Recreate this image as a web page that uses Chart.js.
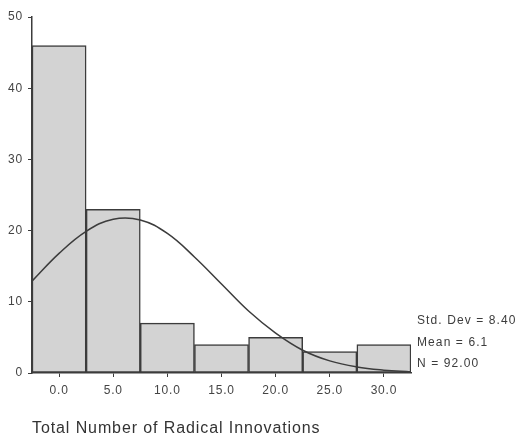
<!DOCTYPE html>
<html>
<head>
<meta charset="utf-8">
<script src="https://cdn.jsdelivr.net/npm/chart.js@4.4.1/dist/chart.umd.min.js"></script>
<style>
  body { margin: 0; background: #fff; }
  #wrap { width: 517px; height: 441px; }
</style>
</head>
<body>
<div id="wrap"><canvas id="chart" width="517" height="441"></canvas></div>
<script>
// -----------------------------
// Data
// -----------------------------
const binCenters = [0, 5, 10, 15, 20, 25, 30];
const counts = [46, 23, 7, 4, 5, 3, 4];

// fitted normal curve
const curveX = [-2.5, 0, 2.5, 5, 7.5, 10, 12.5, 15, 17.5, 20, 22.5, 25, 27.5, 30, 32.5];
const curveY = [12.9, 16.8, 19.9, 21.6, 21.5, 19.6, 16.3, 12.5, 8.7, 5.6, 3.2, 1.7, 0.85, 0.4, 0.15];

const xTicks = [0, 5, 10, 15, 20, 25, 30];
const yTicks = [0, 10, 20, 30, 40, 50];
const stats = ["Std. Dev = 8.40", "Mean = 6.1", "N = 92.00"];
const xTitle = "Total Number of Radical Innovations";

const ink = "#3c3c3c";
const fontFamily = "'Liberation Sans', Arial, sans-serif";

// -----------------------------
// Texts: slightly wide spacing like the scan
// -----------------------------
const textPlugin = {
  id: "texts",
  beforeDraw(chart) {
    // tick labels get a bit of letter spacing too
    chart.ctx.letterSpacing = "0.8px";
  },
  afterDraw(chart) {
    const ctx = chart.ctx;
    ctx.save();
    ctx.fillStyle = ink;
    ctx.textBaseline = "middle";
    ctx.textAlign = "left";

    ctx.font = "12px " + fontFamily;
    ctx.letterSpacing = "1.1px";
    stats.forEach((s, i) => ctx.fillText(s, 417, 321 + i * 21.5));

    ctx.fillStyle = "#333";
    ctx.font = "16px " + fontFamily;
    ctx.letterSpacing = "0.9px";
    ctx.fillText(xTitle, 32, 429);
    ctx.restore();
  }
};

// -----------------------------
// Chart
// -----------------------------
const ctx = document.getElementById("chart").getContext("2d");

new Chart(ctx, {
  type: "bar",
  data: {
    datasets: [
      {
        type: "line",
        data: curveX.map((x, i) => ({ x, y: curveY[i] })),
        borderColor: ink,
        borderWidth: 1.5,
        pointRadius: 0,
        tension: 0.4,
        fill: false,
        order: 0
      },
      {
        type: "bar",
        data: binCenters.map((x, i) => ({ x, y: counts[i] })),
        backgroundColor: "#d3d3d3",
        borderColor: ink,
        borderWidth: 1.5,
        borderSkipped: false,
        barPercentage: 1,
        categoryPercentage: 1,
        order: 1
      }
    ]
  },
  plugins: [textPlugin],
  options: {
    responsive: false,
    animation: false,
    layout: { padding: { top: 17, right: 106, bottom: 0, left: 0 } },
    plugins: { legend: { display: false }, tooltip: { enabled: false } },
    scales: {
      x: {
        type: "linear",
        min: -2.5,
        max: 32.5,
        offset: false,
        afterBuildTicks: s => { s.ticks = xTicks.map(v => ({ value: v })); },
        afterFit: s => { s.height = 68; },
        grid: { drawOnChartArea: false, drawTicks: true, tickLength: 4, color: ink, offset: false },
        border: { display: true, color: ink, width: 1.5 },
        ticks: {
          color: "#444",
          padding: 6,
          maxRotation: 0,
          font: { family: fontFamily, size: 12 },
          callback: v => v.toFixed(1)
        }
      },
      y: {
        min: 0,
        max: 50,
        afterBuildTicks: s => { s.ticks = yTicks.map(v => ({ value: v })); },
        afterFit: s => { s.width = 32; },
        grid: { drawOnChartArea: false, drawTicks: true, tickLength: 4, color: ink },
        border: { display: true, color: ink, width: 1.5 },
        ticks: {
          color: "#444",
          padding: 5,
          font: { family: fontFamily, size: 12 }
        }
      }
    }
  }
});
</script>
</body>
</html>
